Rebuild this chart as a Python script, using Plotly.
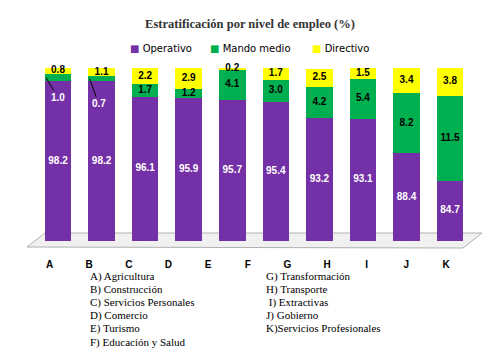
import plotly.graph_objects as go

# bars (10 drawn in the reference) — values
bar_categories = ["A", "B", "C", "D", "E", "F", "G", "H", "I", "J"]
operativo = [98.2, 98.2, 96.1, 95.9, 95.7, 95.4, 93.2, 93.1, 88.4, 84.7]
mando_medio = [1.0, 0.7, 1.7, 1.2, 4.1, 3.0, 4.2, 5.4, 8.2, 11.5]
directivo = [0.8, 1.1, 2.2, 2.9, 0.2, 1.7, 2.5, 1.5, 3.4, 3.8]

# category axis labels (11 in the reference)
tick_labels = ["A", "B", "C", "D", "E", "F", "G", "H", "I", "J", "K"]

left_names = ["A) Agricultura", "B) Construcción", "C) Servicios Personales",
              "D) Comercio", "E) Turismo", "F) Educación y Salud"]
right_names = ["G) Transformación", "H) Transporte", " I) Extractivas",
               "J) Gobierno", "K)Servicios Profesionales"]

series_names = ["Operativo", "Mando medio", "Directivo"]

Y_MIN, Y_MAX = 76.5, 100

W, H = 500, 350
L, R, T, B = 30, 34, 68, 109
pw, ph = W - L - R, H - T - B


def px(x):
    return (x - L) / pw


def py(y):
    return (H - B - y) / ph


PURPLE = "#7430A6"
GREEN = "#00B050"
YELLOW = "#FFFF00"
colors = [PURPLE, GREEN, YELLOW]

small = [0, 1]  # bars whose green label sits outside with a leader line
leader = {0: (12, 20), 1: (9, 25)}

lbl_font = dict(family="Arial", size=10, weight="bold")

fig = go.Figure()
for name, vals, col in zip(series_names, [operativo, mando_medio, directivo], colors):
    fig.add_bar(x=bar_categories, y=vals, name=name, marker_color=col,
                marker_line_width=0, showlegend=False)

# segment labels
purple_y = [(Y_MIN + v) / 2 for v in operativo]
green_idx = [i for i in range(len(bar_categories)) if i not in small]
green_y = [operativo[i] + mando_medio[i] / 2 for i in green_idx]
yellow_y = [o + m + d / 2 for o, m, d in zip(operativo, mando_medio, directivo)]

fig.add_scatter(x=bar_categories, y=purple_y, mode="text",
                text=[f"{v:.1f}" for v in operativo],
                textfont=dict(color="white", **lbl_font), showlegend=False,
                hoverinfo="skip", cliponaxis=False)
fig.add_scatter(x=[bar_categories[i] for i in green_idx], y=green_y, mode="text",
                text=[f"{mando_medio[i]:.1f}" for i in green_idx],
                textfont=dict(color="black", **lbl_font), showlegend=False,
                hoverinfo="skip", cliponaxis=False)
fig.add_scatter(x=bar_categories, y=yellow_y, mode="text",
                text=[f"{v:.1f}" for v in directivo],
                textfont=dict(color="black", **lbl_font), showlegend=False,
                hoverinfo="skip", cliponaxis=False)

# invisible trace carrying the A..K category axis
fig.add_scatter(x=tick_labels, y=[Y_MIN] * len(tick_labels), xaxis="x2",
                mode="markers", marker=dict(opacity=0), showlegend=False,
                hoverinfo="skip")

annotations = []
for i in small:
    ax, ay = leader[i]
    annotations.append(dict(
        x=bar_categories[i], y=operativo[i] + mando_medio[i] / 2, xref="x", yref="y",
        xshift=-12, text=f"{mando_medio[i]:.1f}", showarrow=True, arrowhead=0,
        arrowwidth=1, arrowcolor="black", ax=ax, ay=ay, standoff=0,
        font=dict(color="white", **lbl_font)))

for k, t in enumerate(left_names):
    annotations.append(dict(x=px(89), y=py(276 + 13.2 * k), xref="paper", yref="paper",
                            text=t, showarrow=False, xanchor="left", yanchor="middle",
                            borderpad=0,
                            font=dict(family="Liberation Serif", size=11, color="black")))
for k, t in enumerate(right_names):
    annotations.append(dict(x=px(265), y=py(276 + 13.2 * k), xref="paper", yref="paper",
                            text=t, showarrow=False, xanchor="left", yanchor="middle",
                            borderpad=0,
                            font=dict(family="Liberation Serif", size=11, color="black")))

# legend built from coloured squares and names
legend_x = [129, 209, 311]
for name, col, lx in zip(series_names, colors, legend_x):
    annotations.append(dict(
        x=px(lx), y=py(48), xref="paper", yref="paper", xanchor="left", yanchor="middle",
        showarrow=False, borderpad=0,
        text=f"<span style='color:{col}'>■</span> {name}",
        font=dict(family="DejaVu Sans", size=10, color="black")))

floor = [(27, 247), (45, 233), (482, 233), (463, 248)]
path = "M " + " L ".join(f"{px(a):.4f},{py(b):.4f}" for a, b in floor) + " Z"

fig.update_layout(
    width=W, height=H,
    margin=dict(l=L, r=R, t=T, b=B),
    paper_bgcolor="white", plot_bgcolor="white",
    barmode="stack", bargap=0.39,
    title=dict(text="<b>Estratificación por nivel de empleo (%)</b>",
               x=0.5, xanchor="center", y=1 - 24 / H, yanchor="middle",
               font=dict(family="Liberation Serif", size=12.5, color="#333")),
    showlegend=False,
    xaxis=dict(range=[-0.643, 9.366], showticklabels=False, showgrid=False,
               showline=False, zeroline=False, ticks=""),
    xaxis2=dict(overlaying="x", anchor="y", side="bottom",
                range=[-0.492, 10.504], showgrid=False, showline=False,
                zeroline=False, ticks="outside", ticklen=14,
                tickcolor="rgba(0,0,0,0)",
                tickfont=dict(family="Arial", size=10, color="black", weight="bold")),
    yaxis=dict(range=[Y_MIN, Y_MAX], visible=False),
    shapes=[dict(type="path", path=path, xref="paper", yref="paper", layer="below",
                 fillcolor="#F0F0F0", line=dict(color="#B0B0B0", width=1))],
    annotations=annotations,
)

fig.write_html("out.html")
